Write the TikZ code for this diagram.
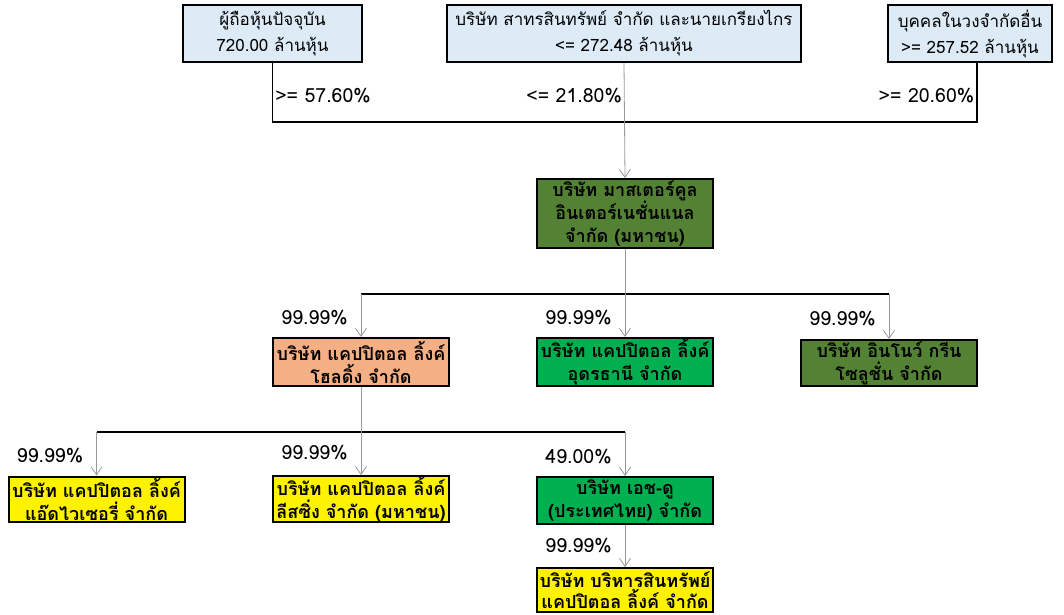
\documentclass[tikz,border=0pt]{standalone}
\usepackage{fontspec}
\newfontfamily\thaifont[Script=Thai]{Loma}
\usetikzlibrary{arrows.meta,positioning}
\definecolor{ownerblue}{HTML}{DDEBF7}
\definecolor{olivegreen}{HTML}{548235}
\definecolor{brightgreen}{HTML}{00B050}
\definecolor{salmon}{HTML}{F4B084}
\definecolor{lineGray}{HTML}{999999}

\begin{document}
\begin{tikzpicture}[x=1pt,y=-1pt,
        box/.style={draw, line width=2pt, minimum width=176pt, inner sep=0pt, align=center,
            font=\thaifont\bfseries\fontsize{18}{23}\selectfont},
        owner/.style={box, fill=ownerblue, minimum height=57pt,
            font=\thaifont\fontsize{17}{26}\selectfont},
        pct/.style={inner sep=2pt, text=black, font=\thaifont\fontsize{19.5}{22}\selectfont},
        holdline/.style={line width=1.6pt},
        busline/.style={line width=1.1pt},
        sub/.style={lineGray, line width=0.8pt, -{Straight Barb[length=8pt,width=11pt]}}
    ]
    \useasboundingbox (0,0) rectangle (1064,614);

    % shareholders
    \node [owner, minimum width=179pt] (cur) at (272.5,33.5) {ผู้ถือหุ้นปัจจุบัน\\720.00 ล้านหุ้น};
    \node [owner, minimum width=354pt] (sathorn) at (624,33.5) {บริษัท สาทรสินทรัพย์ จำกัด และนายเกรียงไกร\\<= 272.48 ล้านหุ้น};
    \node [owner, minimum width=164pt] (inner) at (970,33.5) {บุคคลในวงจำกัดอื่น\\>= 257.52 ล้านหุ้น};

    % companies
    \node [box, fill=olivegreen, minimum height=69pt] (mc) at (625,213.5) {บริษัท มาสเตอร์คูล\\อินเตอร์เนชั่นแนล\\จำกัด (มหาชน)};
    \node [box, fill=salmon, minimum height=48pt] (hold) at (361,362) {บริษัท แคปปิตอล ลิ้งค์\\โฮลดิ้ง จำกัด};
    \node [box, fill=brightgreen, minimum height=48pt] (udon) at (625,362) {บริษัท แคปปิตอล ลิ้งค์\\อุดรธานี จำกัด};
    \node [box, fill=olivegreen, minimum height=46pt] (inno) at (889,363) {บริษัท อินโนว์ กรีน\\โซลูชั่น จำกัด};
    \node [box, fill=yellow, minimum height=45pt] (adv) at (96.5,499) {บริษัท แคปปิตอล ลิ้งค์\\แอ๊ดไวเซอรี่ จำกัด};
    \node [box, fill=yellow, minimum height=45pt] (lease) at (361,499) {บริษัท แคปปิตอล ลิ้งค์\\ลีสซิ่ง จำกัด (มหาชน)};
    \node [box, fill=brightgreen, minimum height=47pt] (hdo) at (625,500.5) {บริษัท เอช-ดู\\(ประเทศไทย) จำกัด};
    \node [box, fill=yellow, minimum height=44pt, anchor=north,
        font=\thaifont\bfseries\fontsize{18}{21}\selectfont] (bam) at (625,567) {บริษัท บริหารสินทรัพย์\\แคปปิตอล ลิ้งค์ จำกัด};

    % shareholding of mc
    \coordinate (innerdrop) at ([xshift=7pt]inner.south);
    \coordinate (topbus) at (0,122);
    \draw [holdline] (cur.south) -- node [pct, right, pos=0.55] {>= 57.60\%} (cur.south |- topbus)
        -- (innerdrop |- topbus) -- node [pct, left, pos=0.45] {>= 20.60\%} (innerdrop);
    \draw [sub] (sathorn.south) -- node [pct, left, pos=0.28] {<= 21.80\%} (mc.north);

    % subsidiaries of mc
    \coordinate (midbus) at (0,294);
    \draw [busline] (hold.north |- midbus) -- (inno.north |- midbus);
    \draw [sub] (mc.south) -- node [pct, left=11pt, pos=0.78] {99.99\%} (udon.north);
    \draw [sub] (hold.north |- midbus) -- node [pct, left=11pt, pos=0.55] {99.99\%} (hold.north);
    \draw [sub] (inno.north |- midbus) -- node [pct, left=11pt, pos=0.55] {99.99\%} (inno.north);

    % subsidiaries of hold
    \coordinate (lowbus) at (0,432);
    \draw [busline] (adv.north |- lowbus) -- (hdo.north |- lowbus);
    \draw [sub] (hold.south) -- node [pct, left=11pt, pos=0.75] {99.99\%} (lease.north);
    \draw [sub] (adv.north |- lowbus) -- node [pct, left=11pt, pos=0.55] {99.99\%} (adv.north);
    \draw [sub] (hdo.north |- lowbus) -- node [pct, left=11pt, pos=0.55] {49.00\%} (hdo.north);

    % subsidiary of hdo
    \draw [sub] (hdo.south) -- node [pct, left=11pt] {99.99\%} (bam.north);
\end{tikzpicture}
\end{document}
